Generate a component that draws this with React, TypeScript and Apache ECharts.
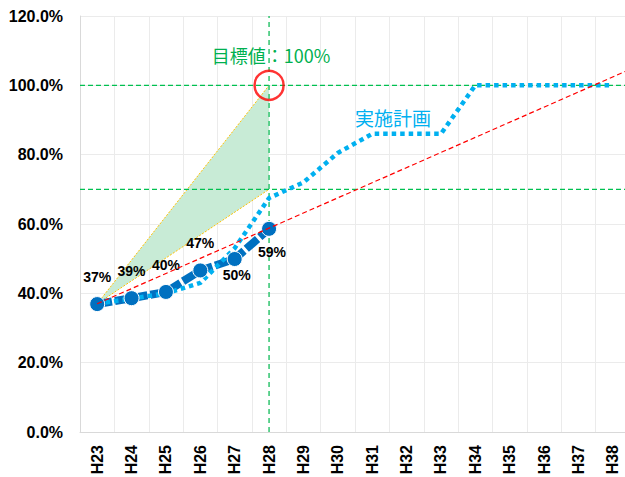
import React, { useEffect, useRef } from "react";
import * as echarts from "echarts";

const categories = ["H23", "H24", "H25", "H26", "H27", "H28", "H29", "H30", "H31", "H32", "H33", "H34", "H35", "H36", "H37", "H38"];
const actual = [36.9, 38.6, 40.4, 46.6, 49.9, 58.6];
const plan = [37, 38.5, 40, 43, 53, 67.5, 72, 80.5, 86, 86, 86, 100, 100, 100, 100, 100];
// positions on a category index scale (H23 = 0)
const trend = [[0, 37], [16, 106.8]];
const triangle = [[0, 37], [5, 100], [5, 70]];
const edgeUpper = [[0, 37], [5, 100]];
const edgeLower = [[0, 37], [5, 70]];
const targetIndex = 5; // H28
const targetValue = 100;
const targetLines = [100, 70];
const yTicks = { min: 0, max: 120, interval: 20 };

const FONT = "'Liberation Sans', Arial, sans-serif";
const CJK = "'Noto Sans CJK JP', 'Noto Sans', sans-serif";

const labelPos = ["top", "top", "top", "top", "bottom", "bottom"];
const labelDist = [12, 12, 12, 12, 1, 8];
const labelOffset = [[0, 0], [0, 0], [0, 0], [0, 0], [2, 0], [3, 0]];

const GREEN_H = { color: "#00c050", width: 1.2, type: [5, 3] };
const GREEN_V = { color: "#2fc46e", width: 1.5, type: [5, 4] };
// map category index to the band-scale value axis (bands span [i, i+1])
const band = (p: number[]) => [p[0] + 0.5, p[1]];

export default function App() {
  const ref = useRef<HTMLDivElement>(null);
  useEffect(() => {
    if (!ref.current) return;
    const chart = echarts.init(ref.current, undefined, { renderer: "svg" });
    const n = categories.length;
    const option: any = {
      animation: false,
      backgroundColor: "#ffffff",
      grid: { left: 80, top: 16, width: 550, height: 416, containLabel: false, outerBoundsMode: "none" },
      xAxis: [
        {
          type: "category",
          data: categories,
          boundaryGap: true,
          axisLine: { show: true, lineStyle: { color: "#d9d9d9", width: 1 } },
          axisTick: { show: false },
          axisLabel: { interval: 0, rotate: 90, fontWeight: "bold", fontSize: 16, color: "#000", margin: 13, fontFamily: FONT },
          splitLine: { show: false },
        },
        {
          type: "value",
          min: 0,
          max: n,
          interval: 1,
          position: "bottom",
          axisLine: { show: false },
          axisLabel: { show: false },
          axisTick: { show: false },
          splitLine: { show: true, lineStyle: { color: "#ebebeb", width: 1 } },
        },
      ],
      yAxis: {
        type: "value",
        min: yTicks.min,
        max: yTicks.max,
        interval: yTicks.interval,
        axisLine: { show: true, lineStyle: { color: "#d9d9d9" } },
        axisTick: { show: false },
        axisLabel: {
          formatter: (v: number) => v.toFixed(1) + "%",
          fontWeight: "bold",
          fontSize: 16,
          color: "#000",
          margin: 17,
          fontFamily: FONT,
        },
        splitLine: { show: true, lineStyle: { color: "#ebebeb", width: 1 } },
      },
      graphic: [
        {
          type: "text",
          x: 271,
          y: 55,
          z: 100,
          style: { text: "目標値：100%", fill: "#00b050", fontSize: 18, fontFamily: CJK, align: "center", verticalAlign: "middle" },
        },
        {
          type: "text",
          x: 393,
          y: 117,
          z: 100,
          style: { text: "実施計画", fill: "#00b0f0", fontSize: 19, fontFamily: CJK, align: "center", verticalAlign: "middle" },
        },
      ],
      series: [
        {
          type: "custom",
          xAxisIndex: 1,
          z: 1,
          data: triangle.map(band),
          renderItem: (params: any, api: any) => {
            if (params.dataIndex !== 0) return null;
            const pts = triangle.map((p) => api.coord(band(p)));
            return { type: "polygon", shape: { points: pts }, style: { fill: "#c8ebd6" } };
          },
          silent: true,
        },
        {
          type: "line",
          xAxisIndex: 1,
          z: 2,
          data: edgeUpper.map(band),
          symbol: "none",
          lineStyle: { color: "#ffc000", width: 1, type: [2, 1.5] },
          silent: true,
        },
        {
          type: "line",
          xAxisIndex: 1,
          z: 2,
          data: edgeLower.map(band),
          symbol: "none",
          lineStyle: { color: "#ffc000", width: 1, type: [2, 1.5] },
          silent: true,
        },
        ...targetLines.map((v) => ({
          type: "line",
          xAxisIndex: 1,
          z: 2,
          data: [[0, v], [n, v]],
          symbol: "none",
          lineStyle: GREEN_H,
          silent: true,
        })),
        {
          type: "line",
          xAxisIndex: 1,
          z: 2,
          data: [band([targetIndex, yTicks.min]), band([targetIndex, yTicks.max])],
          symbol: "none",
          lineStyle: GREEN_V,
          silent: true,
        },
        {
          type: "line",
          z: 3,
          data: actual,
          symbol: "none",
          lineStyle: { color: "#0070c0", width: 8, type: [15, 3] },
          silent: true,
        },
        {
          type: "line",
          z: 4,
          data: plan,
          symbol: "none",
          lineStyle: { color: "#00b0f0", width: 4.5, type: [4.5, 4], cap: "butt" },
        },
        {
          type: "line",
          z: 5,
          data: actual.map((v, i) => ({
            value: v,
            label: {
              show: true,
              position: labelPos[i],
              distance: labelDist[i],
              offset: labelOffset[i],
            },
          })),
          symbol: "circle",
          symbolSize: 15,
          itemStyle: { color: "#0070c0", borderColor: "#ffffff", borderWidth: 1 },
          lineStyle: { width: 0, opacity: 0 },
          label: {
            show: true,
            formatter: (p: any) => Math.round(p.value) + "%",
            fontWeight: "bold",
            fontSize: 14,
            color: "#000",
            fontFamily: FONT,
          },
        },
        {
          type: "line",
          xAxisIndex: 1,
          z: 6,
          data: trend.map(band),
          symbol: "none",
          lineStyle: { color: "#ff0000", width: 1.2, type: [5, 3] },
          silent: true,
        },
        {
          type: "scatter",
          xAxisIndex: 1,
          z: 7,
          data: [band([targetIndex, targetValue])],
          symbol: "circle",
          symbolSize: 29,
          itemStyle: { color: "rgba(0,0,0,0)", borderColor: "#ff0000", borderWidth: 2.5 },
          silent: true,
        },
      ],
    };
    chart.setOption(option);
    return () => chart.dispose();
  }, []);
  return <div ref={ref} style={{ width: 625, height: 477, position: "absolute", left: 0, top: 0 }} />;
}
